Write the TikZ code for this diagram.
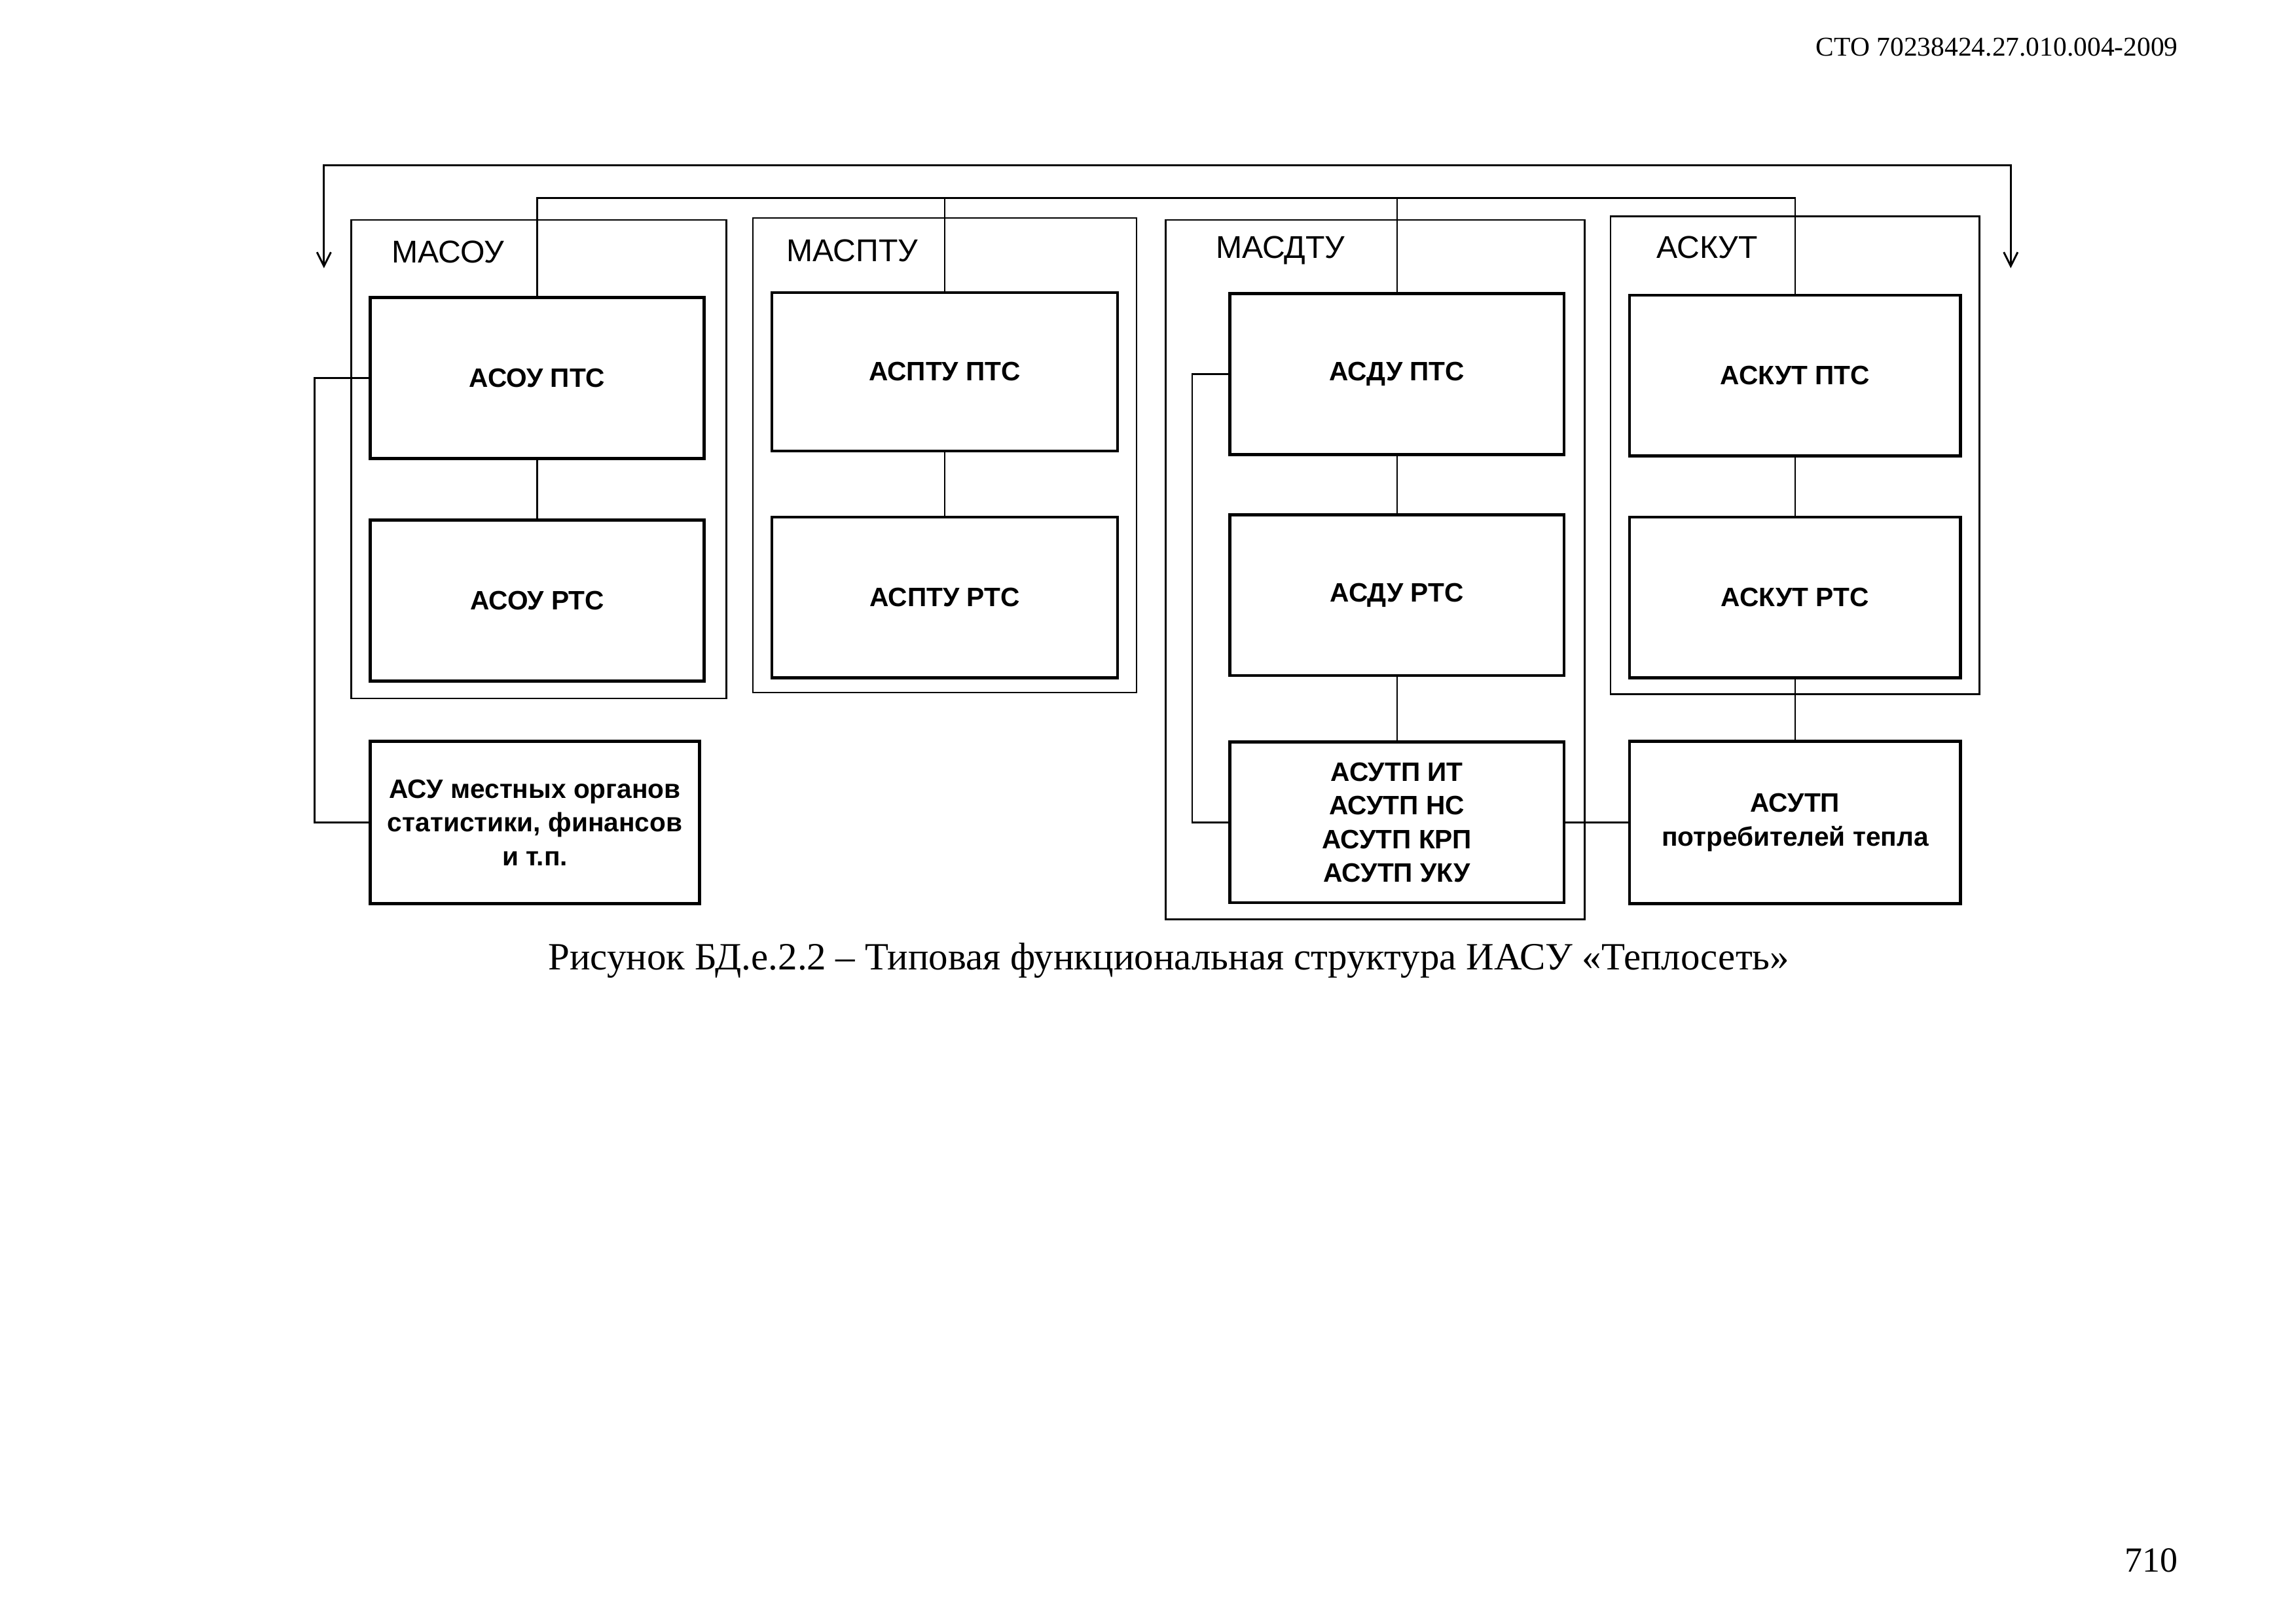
\documentclass[tikz,border=0pt]{standalone}
\usepackage{fontspec}
\setmainfont{Liberation Serif}
\setsansfont{Liberation Sans}
\usepackage{tikz}
\usetikzlibrary{arrows.meta,calc,positioning}

\begin{document}
\begin{tikzpicture}[
      sysbox/.style={draw, line width=1.1pt, fill=white, minimum width=4.32cm, minimum height=2.08cm, align=center, inner sep=2pt, font=\sffamily\bfseries\fontsize{9.8}{12.4}\selectfont},
      groupbox/.style={draw, line width=0.6pt, inner sep=0pt},
      grouplabel/.style={anchor=west, inner sep=0pt, font=\sffamily\fontsize{11.6}{14}\selectfont},
      link/.style={line width=0.6pt},
      bar/.style={line width=0.7pt, {Straight Barb[length=1.8mm, width=1.8mm]}-{Straight Barb[length=1.8mm, width=1.8mm]}}
    ]
      \useasboundingbox (0,0) rectangle (29.70,-21.01);

      % page header
      \node[anchor=east, inner sep=0pt, font=\fontsize{10}{12}\selectfont] (docno) at (28.18,-0.61) {СТО 70238424.27.010.004-2009};

      % frames
      \node[groupbox, minimum width=4.85cm, minimum height=6.19cm] (masou) at (6.97,-5.94) {};
      \node[groupbox, minimum width=4.96cm, minimum height=6.14cm] (maspt) at (12.22,-5.89) {};
      \node[groupbox, minimum width=5.42cm, minimum height=9.05cm] (masdtu) at (17.79,-7.37) {};
      \node[groupbox, minimum width=4.77cm, minimum height=6.18cm] (askut) at (23.22,-5.89) {};

      \node[grouplabel] (masou_lbl) at (5.06,-3.26) {МАСОУ};
      \node[grouplabel] (maspt_lbl) at (10.17,-3.24) {МАСПТУ};
      \node[grouplabel] (masdtu_lbl) at (15.72,-3.24) {МАСДТУ};
      \node[grouplabel] (askut_lbl) at (21.42,-3.20) {АСКУТ};

      % column 1
      \node[sysbox] (asou_pts) at (6.95,-4.89) {АСОУ ПТС};
      \node[sysbox] (asou_rts) at (6.95,-7.77) {АСОУ РТС};
      \node[sysbox, minimum width=4.26cm, minimum height=2.10cm] (asu_local) at (6.92,-10.64) {АСУ местных органов\\статистики, финансов\\и т.п.};

      % column 2
      \node[sysbox, minimum width=4.47cm, minimum height=2.05cm] (aspt_pts) at (12.22,-4.81) {АСПТУ ПТС};
      \node[sysbox, minimum width=4.47cm] (aspt_rts) at (12.22,-7.73) {АСПТУ РТС};

      % column 3
      \node[sysbox] (asdu_pts) at (18.07,-4.84) {АСДУ ПТС};
      \node[sysbox] (asdu_rts) at (18.07,-7.70) {АСДУ РТС};
      \node[sysbox] (asutp) at (18.07,-10.64) {АСУТП ИТ\\АСУТП НС\\АСУТП КРП\\АСУТП УКУ};

      % column 4
      \node[sysbox, minimum width=4.28cm] (askut_pts) at (23.22,-4.86) {АСКУТ ПТС};
      \node[sysbox, minimum width=4.28cm] (askut_rts) at (23.22,-7.73) {АСКУТ РТС};
      \node[sysbox, minimum width=4.28cm, minimum height=2.10cm] (asutp_cons) at (23.22,-10.64) {АСУТП\\потребителей тепла};

      % buses
      \coordinate (barL) at (4.19,-2.14);
      \coordinate (barR) at (26.01,-2.14);
      \coordinate (tipL) at (4.19,-3.47);
      \coordinate (tipR) at (26.01,-3.47);
      \draw[bar] (tipL) -- (barL) -- (barR) -- (tipR);

      \coordinate (bus) at (0,-2.56);
      \draw[link] (asou_pts.north) -- (asou_pts.north |- bus) -- (askut_pts.north |- bus) -- (askut_pts.north);
      \foreach \n in {aspt_pts, asdu_pts}
        \draw[link] (\n.north) -- (\n.north |- bus);

      % links
      \foreach \a/\b in {asou_pts/asou_rts, aspt_pts/aspt_rts, asdu_pts/asdu_rts, asdu_rts/asutp, askut_pts/askut_rts, askut_rts/asutp_cons}
        \draw[link] (\a.south) -- (\b.north);
      \draw[link] (asou_pts.west) -- ++(-0.70,0) |- (asu_local.west);
      \draw[link] (asdu_pts.west) -- ++(-0.47,0) |- (asutp.west);
      \draw[link] (asutp.east) -- (asutp_cons.west);

      % caption
      \node[font=\fontsize{14.2}{17}\selectfont] (caption) at (15.12,-12.43) {Рисунок БД.е.2.2 – Типовая функциональная структура ИАСУ «Теплосеть»};
      \node[anchor=east, inner sep=0pt, font=\fontsize{13}{15}\selectfont] (pageno) at (28.18,-20.19) {710};
    \end{tikzpicture}
\end{document}
